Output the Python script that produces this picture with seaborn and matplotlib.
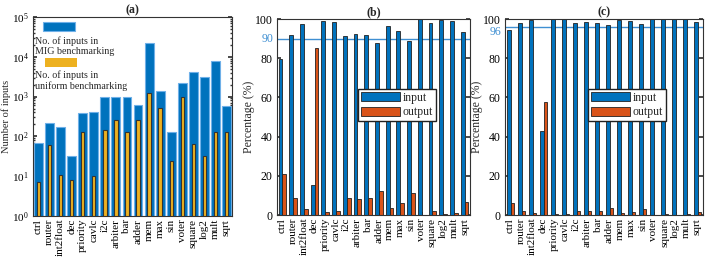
import numpy as np
import pandas as pd
import matplotlib
matplotlib.use("Agg")
import matplotlib.pyplot as plt
import seaborn as sns
from matplotlib.patches import Rectangle
from matplotlib.transforms import blended_transform_factory

sns.set_theme(style="ticks")
plt.rcParams['font.family'] = ['Liberation Serif', 'DejaVu Serif']
plt.rcParams['mathtext.fontset'] = 'stix'

benchmarks = ["ctrl", "router", "int2float", "dec", "priority", "cavlc", "i2c", "arbiter",
              "bar", "adder", "mem", "max", "sin", "voter", "square", "log2", "mult", "sqrt"]

mig_inputs = [67, 217, 173, 32, 380, 420, 1000, 1000, 950, 600, 22400, 1350, 130, 2200,
              4100, 3150, 7800, 580]
uniform_inputs = [7, 60, 11, 8, 128, 10, 144, 256, 128, 256, 1200, 512, 24, 1000,
                  64, 32, 128, 128]

b_input = [79.4, 91.8, 97.4, 15.3, 99.0, 98.3, 91.5, 92.2, 91.8, 87.9, 96.6, 94.0, 88.9,
           100.0, 98.1, 99.3, 99.1, 93.5]
b_output = [20.9, 8.8, 2.9, 85.0, 1.4, 2.0, 8.8, 8.2, 8.7, 12.4, 3.6, 6.1, 11.2,
            0.0, 2.2, 0.7, 1.2, 6.8]

c_input = [94.4, 98.1, 99.5, 42.9, 100.0, 100.0, 98.1, 98.3, 98.1, 97.1, 99.3, 98.8, 97.4,
           100.0, 99.8, 100.0, 99.8, 98.5]
c_output = [6.3, 2.2, 0.8, 57.8, 0.3, 0.3, 2.2, 2.2, 2.2, 3.4, 1.0, 1.7, 3.1,
            0.0, 0.5, 0.0, 0.3, 1.7]

b_threshold = 90
c_threshold = 96

BLUE = "#0072BD"
ORANGE = "#D95319"
YELLOW = "#EDB120"
LINEBLUE = "#3f8fd2"
AXC = "#333333"
XFS = 8
YFS = 8.5

fig = plt.figure(figsize=(7.06, 2.62), dpi=100)
W, H = 706, 262

def add_ax(x0, y0, x1, y1):
    return fig.add_axes([x0 / W, 1 - y1 / H, (x1 - x0) / W, (y1 - y0) / H])

axa = add_ax(33, 17, 232, 216)
axb = add_ax(277, 19, 470, 215)
axc = add_ax(505, 19, 703, 215)

def style(ax, yfs=YFS):
    for s in ax.spines.values():
        s.set_visible(True)
        s.set_color(AXC)
        s.set_linewidth(0.8)
    ax.tick_params(axis='both', which='both', direction='in', colors=AXC, labelcolor='black',
                   right=True, length=3)
    ax.tick_params(axis='x', which='both', length=2, top=False, labelsize=XFS, pad=2)
    ax.tick_params(axis='y', which='major', labelsize=yfs, pad=3)
    ax.tick_params(axis='y', which='minor', length=1.5)
    for lab in ax.get_xticklabels():
        lab.set_rotation(90)

# ---- (a)
axa.set_yscale('log')
dfa = pd.DataFrame({"bench": benchmarks, "mig": mig_inputs, "uni": uniform_inputs})
sns.barplot(data=dfa, x="bench", y="mig", order=benchmarks, color=BLUE, width=0.8,
            edgecolor="#6fb0e8", linewidth=0.8, saturation=1, ax=axa)
sns.barplot(data=dfa, x="bench", y="uni", order=benchmarks, color=YELLOW, width=0.3,
            edgecolor="#333333", linewidth=0.8, saturation=1, ax=axa)
axa.set_ylim(1, 1e5)
axa.set_xlim(-0.5, len(benchmarks) - 0.5)
axa.set_xlabel("")
axa.set_ylabel("Number of inputs", fontsize=7.5)
axa.yaxis.set_label_coords(-0.112, 0.5)
axa.set_title("(a)", fontsize=8.5, fontweight="bold", pad=3)
style(axa, yfs=8)
axa.add_patch(Rectangle((0.05, 0.93), 0.16, 0.045, transform=axa.transAxes,
                        facecolor=BLUE, edgecolor="#6fb0e8", lw=0.8))
axa.text(0.01, 0.852, "No. of inputs in\nMIG benchmarking", transform=axa.transAxes,
         fontsize=7.2, va="center", ha="left", linespacing=1.15)
axa.add_patch(Rectangle((0.06, 0.749), 0.16, 0.045, transform=axa.transAxes,
                        facecolor=YELLOW, edgecolor="none"))
axa.text(0.01, 0.68, "No. of inputs in\nuniform benchmarking", transform=axa.transAxes,
         fontsize=7.2, va="center", ha="left", linespacing=1.15)

# ---- (b), (c)
def pct_panel(ax, inp, out, thr, title):
    df = pd.DataFrame({
        "bench": benchmarks * 2,
        "pct": list(inp) + list(out),
        "type": ["input"] * len(benchmarks) + ["output"] * len(benchmarks),
    })
    sns.barplot(data=df, x="bench", y="pct", hue="type", order=benchmarks,
                hue_order=["input", "output"], palette=[BLUE, ORANGE], width=0.72,
                edgecolor="#222222", linewidth=0.6, saturation=1, ax=ax)
    ax.axhline(thr, color=LINEBLUE, lw=1.0, zorder=0.5)
    ax.set_ylim(0, 100)
    ax.set_xlim(-0.5, len(benchmarks) - 0.5)
    ax.set_yticks([0, 20, 40, 60, 80, 100])
    ax.set_xlabel("")
    ax.set_ylabel("Percentage (%)", fontsize=8.5)
    ax.yaxis.set_label_coords(-0.112, 0.5)
    ax.set_title(title, fontsize=8.5, fontweight="bold", pad=3)
    style(ax)
    trans = blended_transform_factory(ax.transAxes, ax.transData)
    ax.text(-0.018, thr - (2.4 if thr > 94 else 0), str(thr), transform=trans, ha="right",
            va="center", color=LINEBLUE, fontsize=YFS)
    h, l = ax.get_legend_handles_labels()
    ax.legend(h, l, loc="upper left", bbox_to_anchor=(0.42, 0.645), frameon=True,
              fancybox=False, edgecolor="#222222", fontsize=8.5, handlelength=3.3,
              handleheight=0.8, handletextpad=0.2, borderpad=0.25, labelspacing=0.25,
              borderaxespad=0, framealpha=1)

pct_panel(axb, b_input, b_output, b_threshold, "(b)")
pct_panel(axc, c_input, c_output, c_threshold, "(c)")

fig.savefig("out.png", dpi=100)
